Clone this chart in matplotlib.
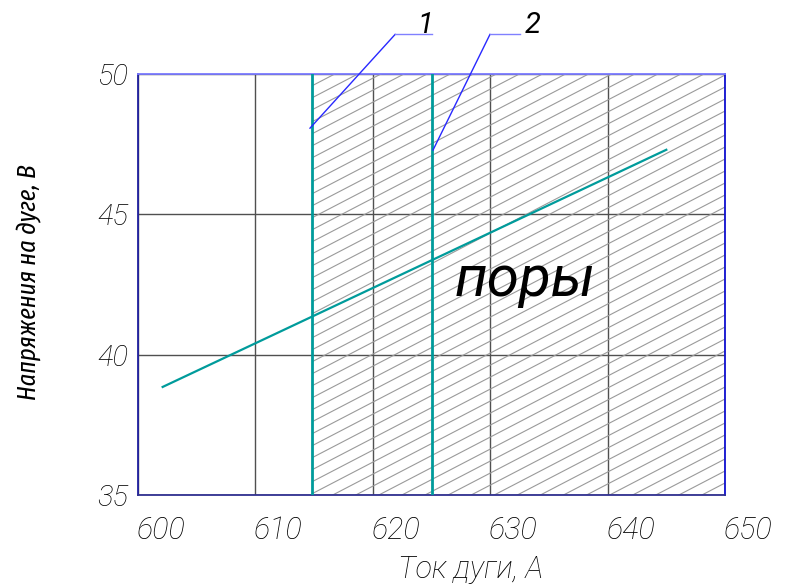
import matplotlib
matplotlib.use('Agg')
import matplotlib.pyplot as plt
import matplotlib.transforms as mtransforms
from matplotlib.patches import Rectangle
import numpy as np

# данные графика
tok_line = [602.1, 645.0]          # ток дуги, А
napr_line = [38.85, 47.3]          # напряжение на дуге, В
granicy = [614.8, 625.0]           # границы 1 и 2
x_ticks = [600, 610, 620, 630, 640, 650]
y_ticks = [35, 40, 45, 50]
podpisi = ['1', '2']

teal = '#009b9b'
font = ['Roboto', 'DejaVu Sans']
font_narrow = ['Fira Sans Extra Condensed', 'Roboto Condensed', 'DejaVu Sans']

fig = plt.figure(figsize=(7.86, 5.85), dpi=100)
ax = fig.add_axes([138/786, 90/585, 587/786, 421/585])
ax.set_xlim(600, 650)
ax.set_ylim(35, 50)

# сетка
ax.set_xticks(x_ticks)
ax.set_yticks(y_ticks)
ax.grid(True, color='#505050', linewidth=1.0)
ax.set_axisbelow(True)
ax.tick_params(length=0)
ax.tick_params(axis='x', pad=15)
ax.tick_params(axis='y', pad=7)

ax.set_xticklabels([str(v) for v in x_ticks], fontsize=22, style='italic',
                   fontweight='light', family=font)
ax.set_yticklabels([str(v) for v in y_ticks], fontsize=21, style='italic',
                   fontweight='light', family=font)
shift = mtransforms.ScaledTranslation(23/100, 0, fig.dpi_scale_trans)
for lbl in ax.get_xticklabels():
    lbl.set_transform(lbl.get_transform() + shift)

# рамка
ax.spines['top'].set_color('#7a7aff')
ax.spines['right'].set_color('#1010d0')
ax.spines['left'].set_color('#2020a0')
ax.spines['bottom'].set_color('#303090')
for s in ax.spines.values():
    s.set_linewidth(1.3)

# штриховка области пор
rect = Rectangle((granicy[0], 35), 650 - granicy[0], 15, facecolor='none',
                 edgecolor='none', transform=ax.transData)
ax.add_patch(rect)
k = 0.2175
step = 0.4275
for y0 in np.arange(35 - k * 50, 50 + step, step):
    ln, = ax.plot([600, 650], [y0, y0 + k * 50], color='#9a9a9a', lw=0.8,
                  zorder=1)
    ln.set_clip_path(rect)

# границы и линия
for xg in granicy:
    ax.axvline(xg, color=teal, lw=2.0, zorder=3)
ax.plot(tok_line, napr_line, color=teal, lw=1.6, zorder=4)

ax.text(633, 42.1, 'поры', fontsize=42, style='italic', family=font,
        ha='center', va='baseline', zorder=5)

# выноски
vynoski = [((614.65, 48.07), (621.9, 51.41), (625.04, 51.41), 624.5),
           ((625.13, 47.29), (629.98, 51.41), (632.5, 51.41), 633.6)]
for (p0, p1, p2, xt), txt in zip(vynoski, podpisi):
    ax.plot([p0[0], p1[0]], [p0[1], p1[1]], color='#2828ff', lw=1.0,
            clip_on=False, zorder=6)
    ax.plot([p1[0], p2[0]], [p1[1], p2[1]], color='#8080ff', lw=1.0,
            clip_on=False, zorder=6)
    ax.text(xt, 51.45, txt, fontsize=21, style='italic',
            family=font, ha='center', va='baseline', clip_on=False)

ax.set_xlabel('Ток дуги, А', fontsize=22, style='italic', fontweight='light',
              family=font)
ax.xaxis.set_label_coords(0.567, -0.142)
ax.set_ylabel('Напряжения на дуге, В', fontsize=19, style='italic',
              fontweight='normal', family=font_narrow)
ax.yaxis.set_label_coords(-0.165, 0.506)

fig.savefig('out.png', dpi=100)
